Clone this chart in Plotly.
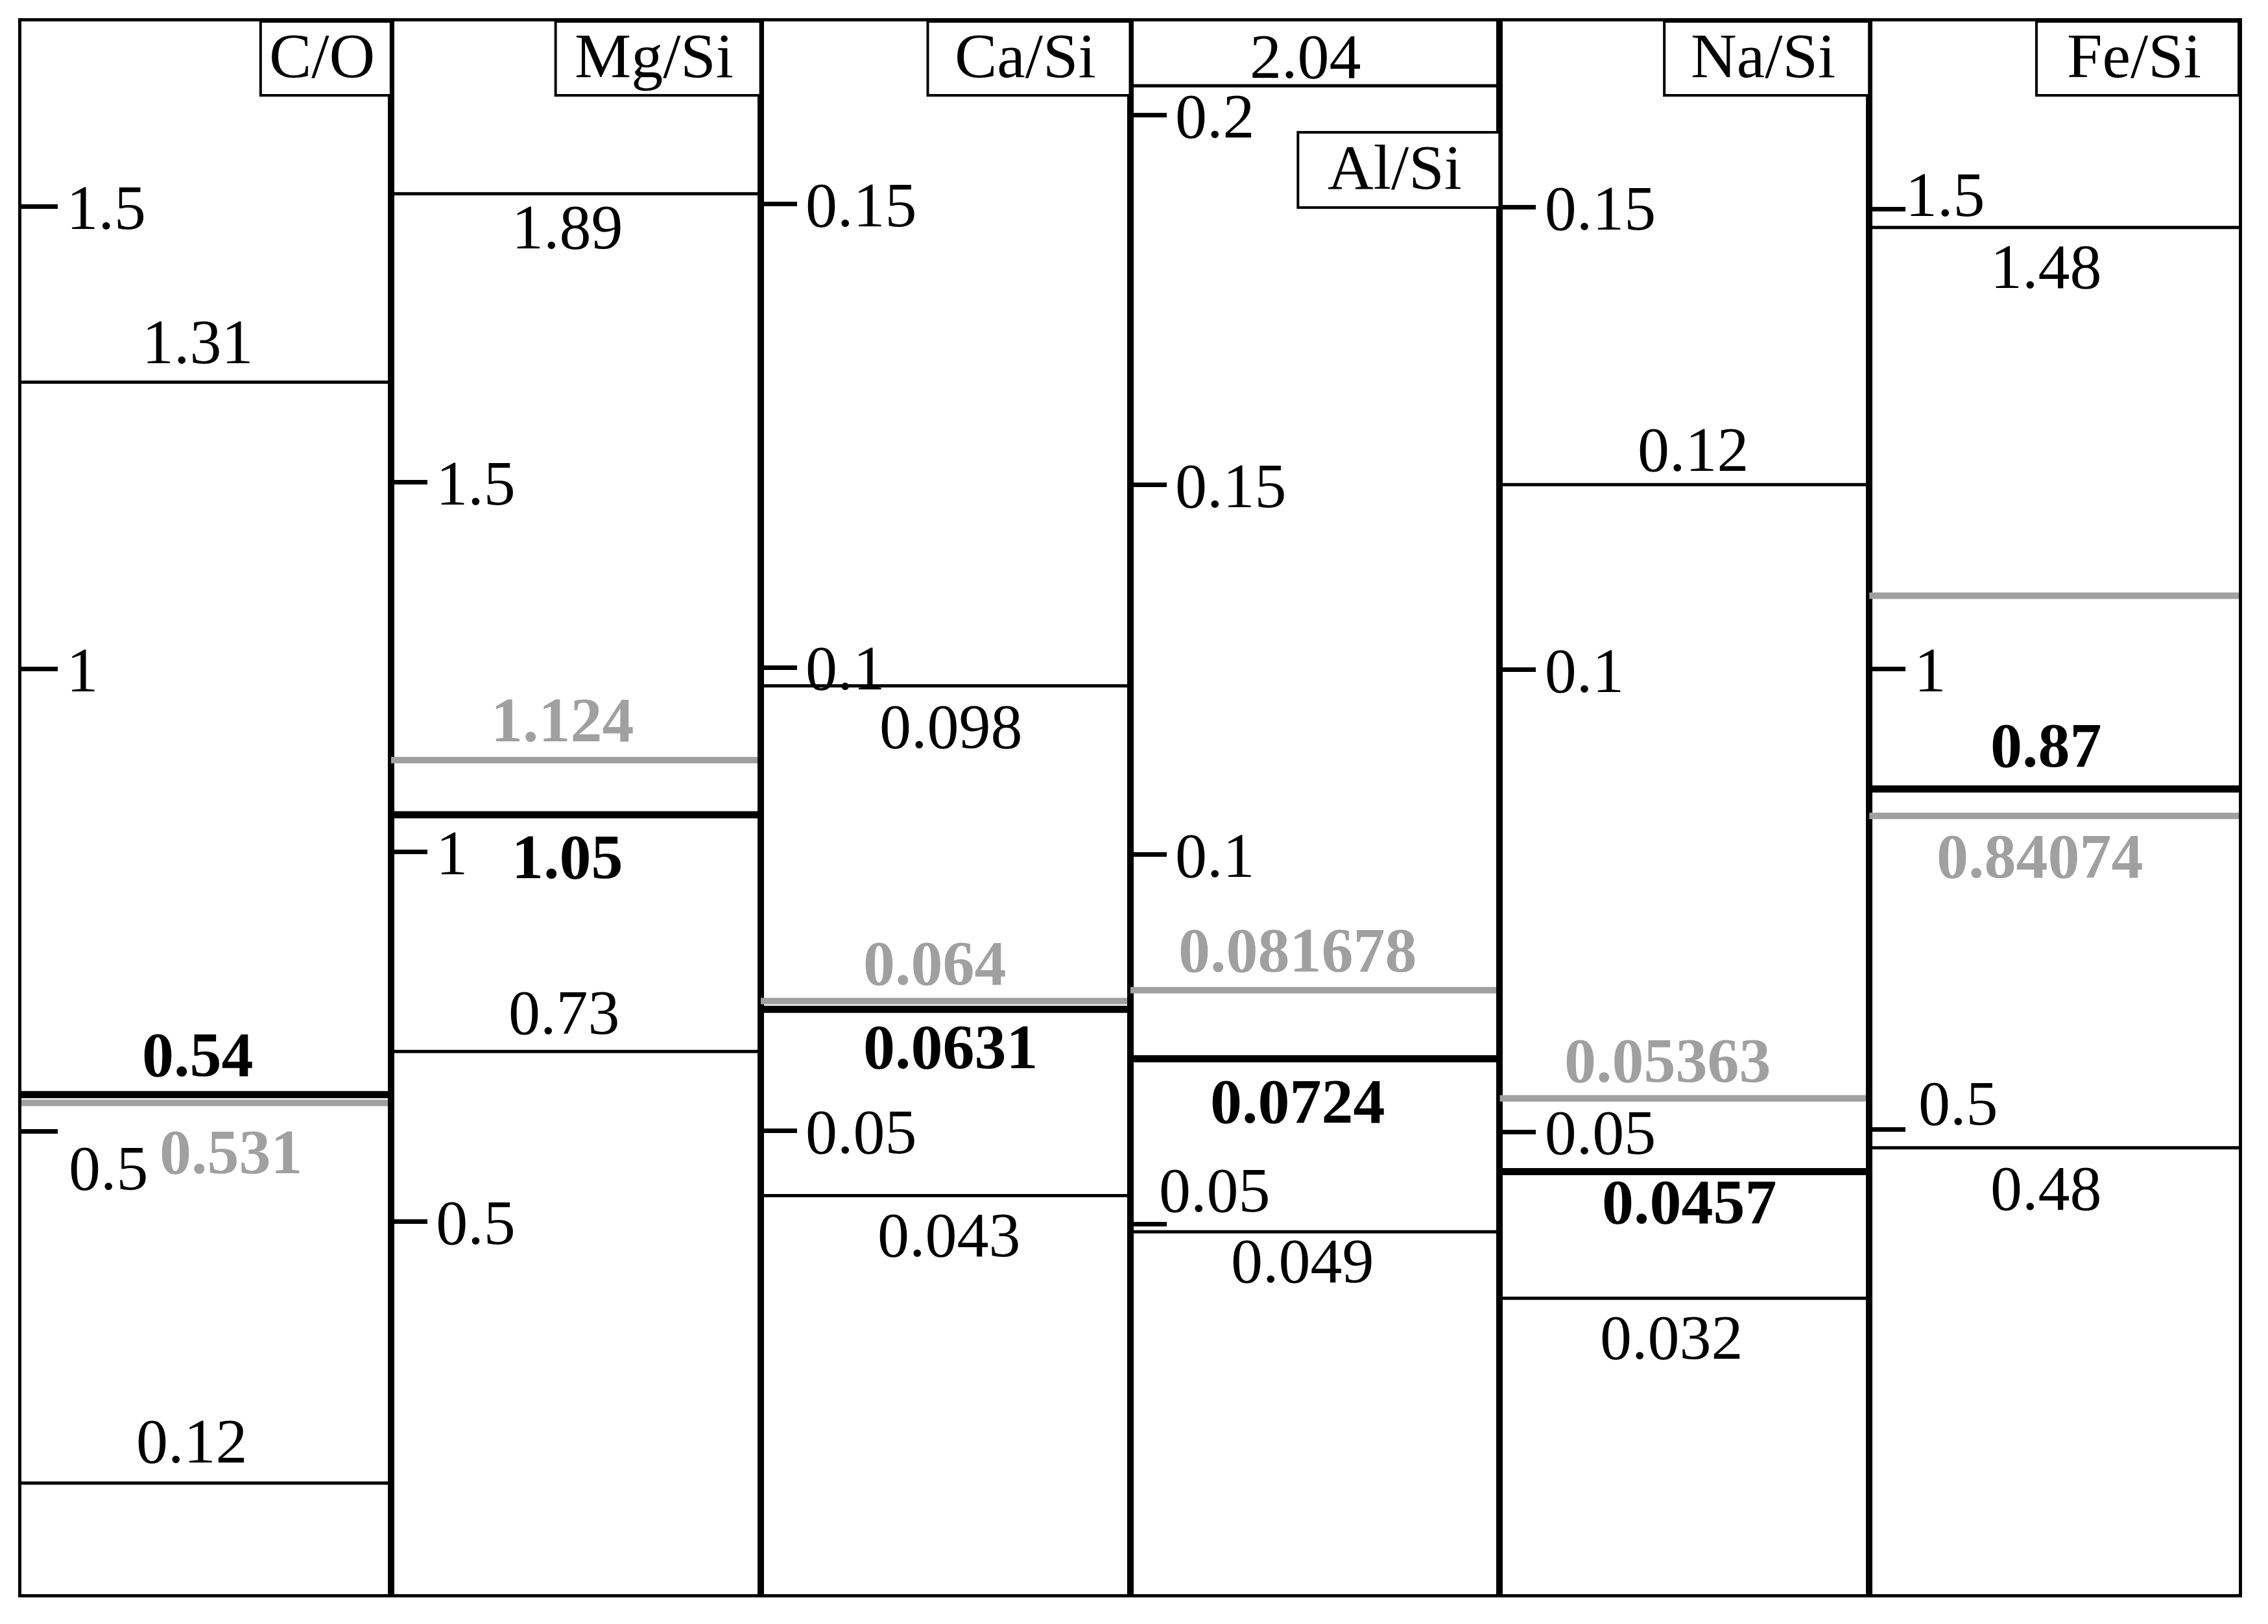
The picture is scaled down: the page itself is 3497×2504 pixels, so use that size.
import plotly.graph_objects as go

# 各面板的比值名称
panels = ["C/O", "Mg/Si", "Ca/Si", "Al/Si", "Na/Si", "Fe/Si"]

# 上限 / 下限（细黑线）
upper_vals = [1.31, 1.89, 0.098, 0.204, 0.12, 1.48]
upper_text = ["1.31", "1.89", "0.098", "2.04", "0.12", "1.48"]
lower_vals = [0.12, 0.73, 0.043, 0.049, 0.032, 0.48]
lower_text = ["0.12", "0.73", "0.043", "0.049", "0.032", "0.48"]

# 粗黑线
bold_vals = [0.54, 1.05, 0.0631, 0.0724, 0.0457, 0.87]
bold_text = ["0.54", "1.05", "0.0631", "0.0724", "0.0457", "0.87"]

# 灰线
gray_vals = [0.531, 1.124, 0.064, 0.081678, 0.05363, 0.84074]
gray_text = ["0.531", "1.124", "0.064", "0.081678", "0.05363", "0.84074"]
extra_gray_vals = [None, None, None, None, None, 1.08]

# 刻度
tick_vals = [[0.5, 1, 1.5], [0.5, 1, 1.5], [0.05, 0.1, 0.15],
             [0.05, 0.1, 0.15, 0.2], [0.05, 0.1, 0.15], [0.5, 1, 1.5]]
tick_text = [["0.5", "1", "1.5"], ["0.5", "1", "1.5"], ["0.05", "0.1", "0.15"],
             ["0.05", "0.1", "0.15", "0.2"], ["0.05", "0.1", "0.15"], ["0.5", "1", "1.5"]]

# 各面板的 y 轴范围
y_ranges = [[0, 1.7], [-0.004, 2.123], [0, 0.1697], [0, 0.2127], [0, 0.1701], [-0.005, 1.704]]

# 标签位置：面板内的 x（0~1）和相对线的竖直偏移（像素，正为上）
upper_x = [0.478, 0.477, 0.515, 0.474, 0.525, 0.478]
upper_dy = [62, -51, -62, 45, 54, -60]
lower_x = [0.462, 0.469, 0.511, 0.466, 0.466, 0.478]
lower_dy = [65, 60, -60, -45, -60, -62]
bold_x = [0.478, 0.477, 0.515, 0.454, 0.513, 0.478]
bold_dy = [62, -65, -58, -65, -47, 67]
gray_x = [0.568, 0.465, 0.472, 0.454, 0.454, 0.462]
gray_dy = [-75, 62, 58, 62, 58, -62]

# 需要单独摆放的刻度标签 (面板, 刻度值, x, yshift)
odd_ticks = [(0, 0.5, 0.125, -56), (3, 0.05, 0.075, 53), (5, 1.5, 0.095, 22), (5, 0.5, 0.13, 40)]

FONT = "Liberation Serif"
FS = 98
GRAY = "#a0a0a0"
title_w = [201, 316, 312, 311, 316, 312]  # 标题框宽度（像素）

W, H = 3481, 2488
ml, mr, mt, mb = 25, 37, 25, 38
panel_w = (W - ml - mr) / 6
plot_h = H - mt - mb

fig = go.Figure()
layout = dict(
    width=W, height=H,
    margin=dict(l=ml, r=mr, t=mt, b=mb),
    plot_bgcolor="white", paper_bgcolor="white",
    showlegend=False,
    font=dict(family=FONT, size=FS, color="black"),
)
annotations = []
shapes = []

for i in range(6):
    k = "" if i == 0 else str(i + 1)
    xa, ya = "x" + k, "y" + k

    def hline(v, color, width):
        fig.add_trace(go.Scatter(x=[0, 1], y=[v, v], mode="lines",
                                 line=dict(color=color, width=width),
                                 xaxis=xa, yaxis=ya, hoverinfo="skip"))

    def label(v, text, x, dy, color="black", bold=False):
        annotations.append(dict(
            text=f"<b>{text}</b>" if bold else text,
            xref=f"{xa} domain", yref=ya, x=x, y=v,
            xanchor="center", yanchor="middle",
            yshift=dy, showarrow=False,
            font=dict(family=FONT, size=FS, color=color)))

    hline(upper_vals[i], "black", 5)
    hline(lower_vals[i], "black", 5)
    hline(gray_vals[i], GRAY, 10)
    if extra_gray_vals[i] is not None:
        hline(extra_gray_vals[i], GRAY, 10)
    hline(bold_vals[i], "black", 11)

    label(upper_vals[i], upper_text[i], upper_x[i], upper_dy[i])
    label(lower_vals[i], lower_text[i], lower_x[i], lower_dy[i])
    label(bold_vals[i], bold_text[i], bold_x[i], bold_dy[i], bold=True)
    label(gray_vals[i], gray_text[i], gray_x[i], gray_dy[i], color=GRAY, bold=True)

    # 刻度标签：个别位置偏移的用注释代替
    txt = []
    for tv, tt in zip(tick_vals[i], tick_text[i]):
        odd = [o for o in odd_ticks if o[0] == i and o[1] == tv]
        if odd:
            txt.append("")
            annotations.append(dict(
                text=tt, xref=f"{xa} domain", yref=ya, x=odd[0][2], y=tv,
                xanchor="left", yanchor="middle", yshift=odd[0][3],
                showarrow=False, font=dict(family=FONT, size=FS, color="black")))
        else:
            txt.append(tt)

    layout["xaxis" + k] = dict(
        domain=[i / 6, (i + 1) / 6], range=[0, 1], anchor=ya,
        showticklabels=False, ticks="", showgrid=False, zeroline=False,
        showline=True, mirror=True, linecolor="black", linewidth=5, fixedrange=True)
    layout["yaxis" + k] = dict(
        domain=[0, 1], range=y_ranges[i], anchor=xa,
        tickmode="array", tickvals=tick_vals[i], ticktext=txt,
        ticks="inside", ticklen=56, tickwidth=7, tickcolor="black",
        ticklabelposition="inside", ticklabelstandoff=30,
        tickfont=dict(family=FONT, size=FS, color="black"),
        showgrid=False, zeroline=False,
        showline=True, mirror=True, linecolor="black", linewidth=5, fixedrange=True)

    # 标题框
    top_px = 0 if i != 3 else 171
    box_h = 114 if i != 3 else 116
    y1 = 1 - top_px / plot_h
    y0 = y1 - box_h / plot_h
    x0 = 1 - title_w[i] / panel_w
    shapes.append(dict(type="rect", xref=f"{xa} domain", yref=f"{ya} domain",
                       x0=x0, x1=1, y0=y0, y1=y1,
                       line=dict(color="black", width=4), fillcolor="white"))
    annotations.append(dict(
        text=panels[i], xref=f"{xa} domain", yref=f"{ya} domain",
        x=(x0 + 1) / 2, y=(y0 + y1) / 2, xanchor="center", yanchor="middle",
        xshift=-6, yshift=4,
        showarrow=False, font=dict(family=FONT, size=FS, color="black")))

layout["annotations"] = annotations
layout["shapes"] = shapes
fig.update_layout(**layout)

fig.write_html("out.html")
